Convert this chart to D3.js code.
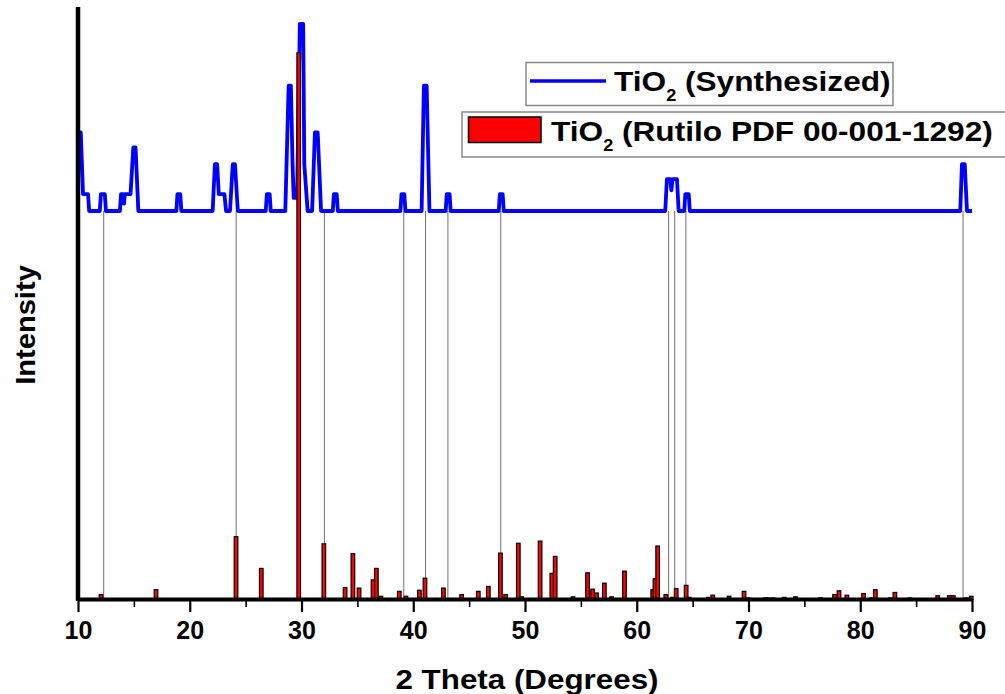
<!DOCTYPE html>
<html>
<head>
<meta charset="utf-8">
<script src="https://cdn.jsdelivr.net/npm/d3@7"></script>
<style>
  body { margin: 0; background: #fff; }
  text { font-family: "Liberation Sans", Arial, sans-serif; font-weight: bold; fill: #000; }
</style>
</head>
<body>
<div id="chart"></div>
<script>
'use strict';

// synthesized pattern, [2theta, relative intensity above its baseline]
var synthPattern = [
  [10.0, 0], [10.05, 42], [10.25, 42], [10.45, 9], [10.9, 9], [11.0, 0],
  [11.95, 0], [12.05, 9], [12.4, 9], [12.5, 0],
  [13.75, 0], [13.85, 9], [14.05, 9], [14.12, 4], [14.2, 9], [14.7, 9], [14.95, 34], [15.15, 34], [15.4, 0],
  [18.8, 0], [18.9, 9], [19.15, 9], [19.25, 0],
  [22.05, 0], [22.25, 25], [22.45, 25], [22.6, 9], [23.1, 9], [23.25, 0],
  [23.6, 0], [23.85, 25], [24.05, 25], [24.3, 0],
  [26.8, 0], [26.9, 9], [27.15, 9], [27.25, 0],
  [28.55, 0], [28.85, 67], [29.05, 67], [29.2, 25], [29.3, 7], [29.6, 7], [29.85, 100], [30.15, 100],
  [30.25, 25], [30.55, 0], [30.95, 0], [31.2, 42], [31.45, 42], [31.75, 0],
  [32.8, 0], [32.9, 9], [33.15, 9], [33.25, 0],
  [38.85, 0], [38.95, 9], [39.2, 9], [39.3, 0],
  [40.75, 0], [40.95, 67], [41.2, 67], [41.45, 0],
  [42.9, 0], [43.0, 9], [43.25, 9], [43.35, 0],
  [47.65, 0], [47.75, 9], [48.0, 9], [48.1, 0],
  [62.55, 0], [62.7, 17], [63.0, 17], [63.1, 11], [63.2, 17], [63.6, 17], [63.75, 0],
  [64.25, 0], [64.35, 9], [64.65, 9], [64.75, 0],
  [88.95, 0], [89.1, 25], [89.35, 25], [89.55, 0], [90.0, 0]
];

// rutile reference card (PDF 00-001-1292)
var rutileAngle = [12.06, 16.98, 24.14, 26.4, 29.75, 32.0, 33.9, 34.6, 35.15, 36.4, 36.7, 37.1, 38.75, 39.35,
  40.55, 41.05, 42.7, 44.33, 45.82, 46.72, 47.8, 48.27, 49.4, 49.7, 51.35, 52.4, 52.7, 54.3, 55.6, 56.05,
  56.4, 57.1, 57.75, 58.9, 61.43, 61.63, 61.87, 62.6, 63.2, 63.53, 64.42, 64.7, 66.4, 66.8, 68.26, 69.6,
  69.98, 71.5, 71.75, 72.2, 73.2, 74.2, 76.45, 77.7, 78.1, 78.8, 80.3, 81.0, 81.35, 82.7, 83.1, 84.45,
  86.93, 87.97, 88.33, 89.47, 89.93];
var rutileIntensity = [0.8, 1.7, 11.4, 5.6, 100, 10.1, 2.1, 8.3, 2, 3.5, 5.6, 0.5, 1.4, 0.5,
  1.6, 3.8, 2, 0.8, 1.4, 2.3, 8.4, 0.8, 10.2, 0.4, 10.6, 4.7, 7.8, 0.4, 4.8, 1.8,
  1.1, 2.9, 0.4, 5.1, 1.7, 3.7, 9.7, 0.8, 0.3, 1.9, 2.5, 0.3, 0.3, 0.7, 0.5, 1.4,
  0.2, 0.2, 0.2, 0.2, 0.3, 0.4, 0.2, 0.8, 1.5, 0.7, 1, 0.2, 1.7, 0.2, 1.2, 0.2,
  0.6, 0.6, 0.6, 0.2, 0.5];

// drop lines between matched peaks
var matchLines = [12.3, 24.15, 32.05, 39.15, 41.1, 43.1, 47.83, 62.85, 63.4, 64.4, 89.2];

var majorTicks = [10, 20, 30, 40, 50, 60, 70, 80, 90];
var minorTicks = [15, 25, 35, 45, 55, 65, 75, 85];

var legendLabels = ['(Synthesized)', '(Rutilo PDF 00-001-1292)'];

var width = 1005, height = 694;

var svg = d3.select('#chart').append('svg')
  .attr('width', width)
  .attr('height', height);

var x = d3.scaleLinear().domain([10, 90]).range([78, 972]);
var y = d3.scaleLinear().domain([0, 108.2]).range([599, 8]);     // reference bars
var yBlue = d3.scaleLinear().domain([0, 100]).range([211, 24]);  // synthesized, offset

// drop lines
svg.append('g').selectAll('line')
  .data(matchLines)
  .enter().append('line')
  .attr('x1', function(d) { return x(d); })
  .attr('x2', function(d) { return x(d); })
  .attr('y1', yBlue(0))
  .attr('y2', y(0))
  .attr('stroke', '#707070')
  .attr('stroke-width', 1);

// synthesized pattern
var line = d3.line()
  .x(function(d) { return x(d[0]); })
  .y(function(d) { return yBlue(d[1]); });

svg.append('path')
  .datum(synthPattern)
  .attr('d', line)
  .attr('fill', 'none')
  .attr('stroke', '#0000ff')
  .attr('stroke-width', 3.8)
  .attr('stroke-linejoin', 'round');

// rutile bars
var bars = rutileAngle.map(function(a, i) { return {a: a, v: rutileIntensity[i]}; });
svg.append('g').selectAll('rect')
  .data(bars)
  .enter().append('rect')
  .attr('x', function(d) { return x(d.a) - 1.8; })
  .attr('width', 3.6)
  .attr('y', function(d) { return y(d.v); })
  .attr('height', function(d) { return y(0) - y(d.v); })
  .attr('fill', '#ff0000')
  .attr('stroke', '#000')
  .attr('stroke-width', 1.2);

// axes
var xAxis = svg.append('g')
  .attr('transform', 'translate(0,' + y(0) + ')')
  .call(d3.axisBottom(x).tickValues(majorTicks).tickSize(13).tickSizeOuter(0).tickPadding(9));
xAxis.select('.domain').attr('stroke-width', 4);
xAxis.selectAll('.tick line').attr('stroke-width', 2.2);
xAxis.selectAll('.tick text')
  .attr('font-size', 25)
  .attr('font-family', '"Liberation Sans", Arial, sans-serif')
  .attr('font-weight', 'bold');

svg.append('g')
  .attr('transform', 'translate(0,' + y(0) + ')')
  .call(d3.axisBottom(x).tickValues(minorTicks).tickSize(8).tickFormat(''))
  .call(function(g) { g.select('.domain').remove(); })
  .selectAll('.tick line').attr('stroke-width', 1.6);

svg.append('line')
  .attr('x1', x(10)).attr('x2', x(10))
  .attr('y1', y.range()[1] - 1).attr('y2', y(0) + 2)
  .attr('stroke', '#000')
  .attr('stroke-width', 4.5);

// axis titles
svg.append('text')
  .attr('transform', 'translate(' + ((x(10) + x(90)) / 2 + 2) + ',689) scale(1.12,1)')
  .attr('text-anchor', 'middle')
  .attr('font-size', 28)
  .text('2 Theta (Degrees)');

svg.append('text')
  .attr('transform', 'translate(35,325) rotate(-90) scale(1.04,1)')
  .attr('text-anchor', 'middle')
  .attr('font-size', 28)
  .text('Intensity');

// legend
var legend = svg.append('g');

legend.append('rect')
  .attr('x', 526).attr('y', 62.5).attr('width', 367).attr('height', 43)
  .attr('fill', '#fff').attr('stroke', '#888').attr('stroke-width', 1.5);
legend.append('line')
  .attr('x1', 530).attr('x2', 606).attr('y1', 81).attr('y2', 81)
  .attr('stroke', '#0000ff').attr('stroke-width', 3.5);

legend.append('rect')
  .attr('x', 462).attr('y', 112).attr('width', 560).attr('height', 45)
  .attr('fill', '#fff').attr('stroke', '#888').attr('stroke-width', 1.5);
legend.append('rect')
  .attr('x', 468.5).attr('y', 117).attr('width', 72.5).attr('height', 25.5)
  .attr('fill', '#ff0000').attr('stroke', '#000').attr('stroke-width', 1.5);

[[614, 91.3, legendLabels[0]], [551, 140.7, legendLabels[1]]].forEach(function(e) {
  var t = legend.append('text')
    .attr('transform', 'translate(' + e[0] + ',' + e[1] + ') scale(1.13,1)')
    .attr('font-size', 28);
  t.append('tspan').text('TiO');
  t.append('tspan').attr('font-size', 16).attr('dy', 10).text('2');
  t.append('tspan').attr('dy', -10).text(' ' + e[2]);
});
</script>
</body>
</html>
